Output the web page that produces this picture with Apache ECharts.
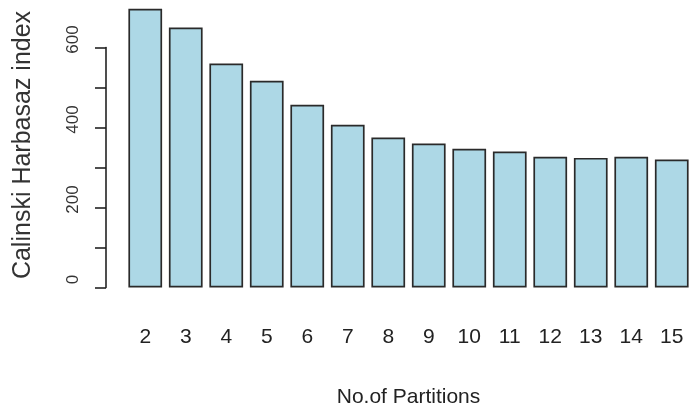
<!DOCTYPE html>
<html>
<head>
<meta charset="utf-8">
<script src="https://cdn.jsdelivr.net/npm/echarts@6/dist/echarts.min.js"></script>
<style>
  html, body { margin: 0; padding: 0; background: #fff; }
  #chStat { width: 692px; height: 414px; }
</style>
</head>
<body>
<!-- Calinski Harabasz index vs number of partitions -->
<div id="chStat"></div>
<script>
// data
const partitions = ["2", "3", "4", "5", "6", "7", "8", "9", "10", "11", "12", "13", "14", "15"];
const chIndex = [697, 650, 560, 517, 457, 407, 375, 360, 347, 340, 327, 324, 327, 320];
const yTicks = [0, 200, 400, 600];

const sans = "'Liberation Sans', Arial, sans-serif";
const chartInstance = echarts.init(document.getElementById("chStat"));

const option = {
  backgroundColor: "#ffffff",
  animation: false,
  grid: {
    left: 125,
    right: -11,
    top: 47.5,
    bottom: 126.5,
  },
  xAxis: {
    type: "category",
    data: partitions,
    axisLine: { show: false },
    axisTick: { show: false },
    axisLabel: {
      color: "#222",
      fontFamily: sans,
      fontSize: 21,
      margin: 39,
    },
    name: "No.of Partitions",
    nameLocation: "middle",
    nameGap: 99,
    nameTextStyle: {
      color: "#222",
      fontFamily: sans,
      fontSize: 21,
    },
  },
  yAxis: {
    type: "value",
    min: 0,
    max: 600,
    interval: 100,
    offset: 19,
    splitLine: { show: false },
    axisLine: { show: true, lineStyle: { color: "#222", width: 1.6 } },
    axisTick: { show: true, length: 11, lineStyle: { color: "#222", width: 1.6 } },
    axisLabel: {
      rotate: 90,
      margin: 24,
      color: "#333",
      fontFamily: sans,
      fontSize: 17,
      padding: [0, 0, 0, 16],
      formatter: (v) => (yTicks.indexOf(v) >= 0 ? String(v) : ""),
    },
    name: "Calinski Harbasaz index",
    nameLocation: "middle",
    nameRotate: 90,
    nameGap: 70,
    nameTextStyle: {
      color: "#333",
      fontFamily: sans,
      fontSize: 25,
      padding: [0, 0, 0, 45],
    },
  },
  series: [
    {
      type: "bar",
      data: chIndex,
      clip: false,
      barCategoryGap: "16.7%",
      itemStyle: {
        color: "#ADD8E6",
        borderColor: "#2a2a2a",
        borderWidth: 1.7,
      },
    },
  ],
};
chartInstance.setOption(option);
</script>
</body>
</html>
